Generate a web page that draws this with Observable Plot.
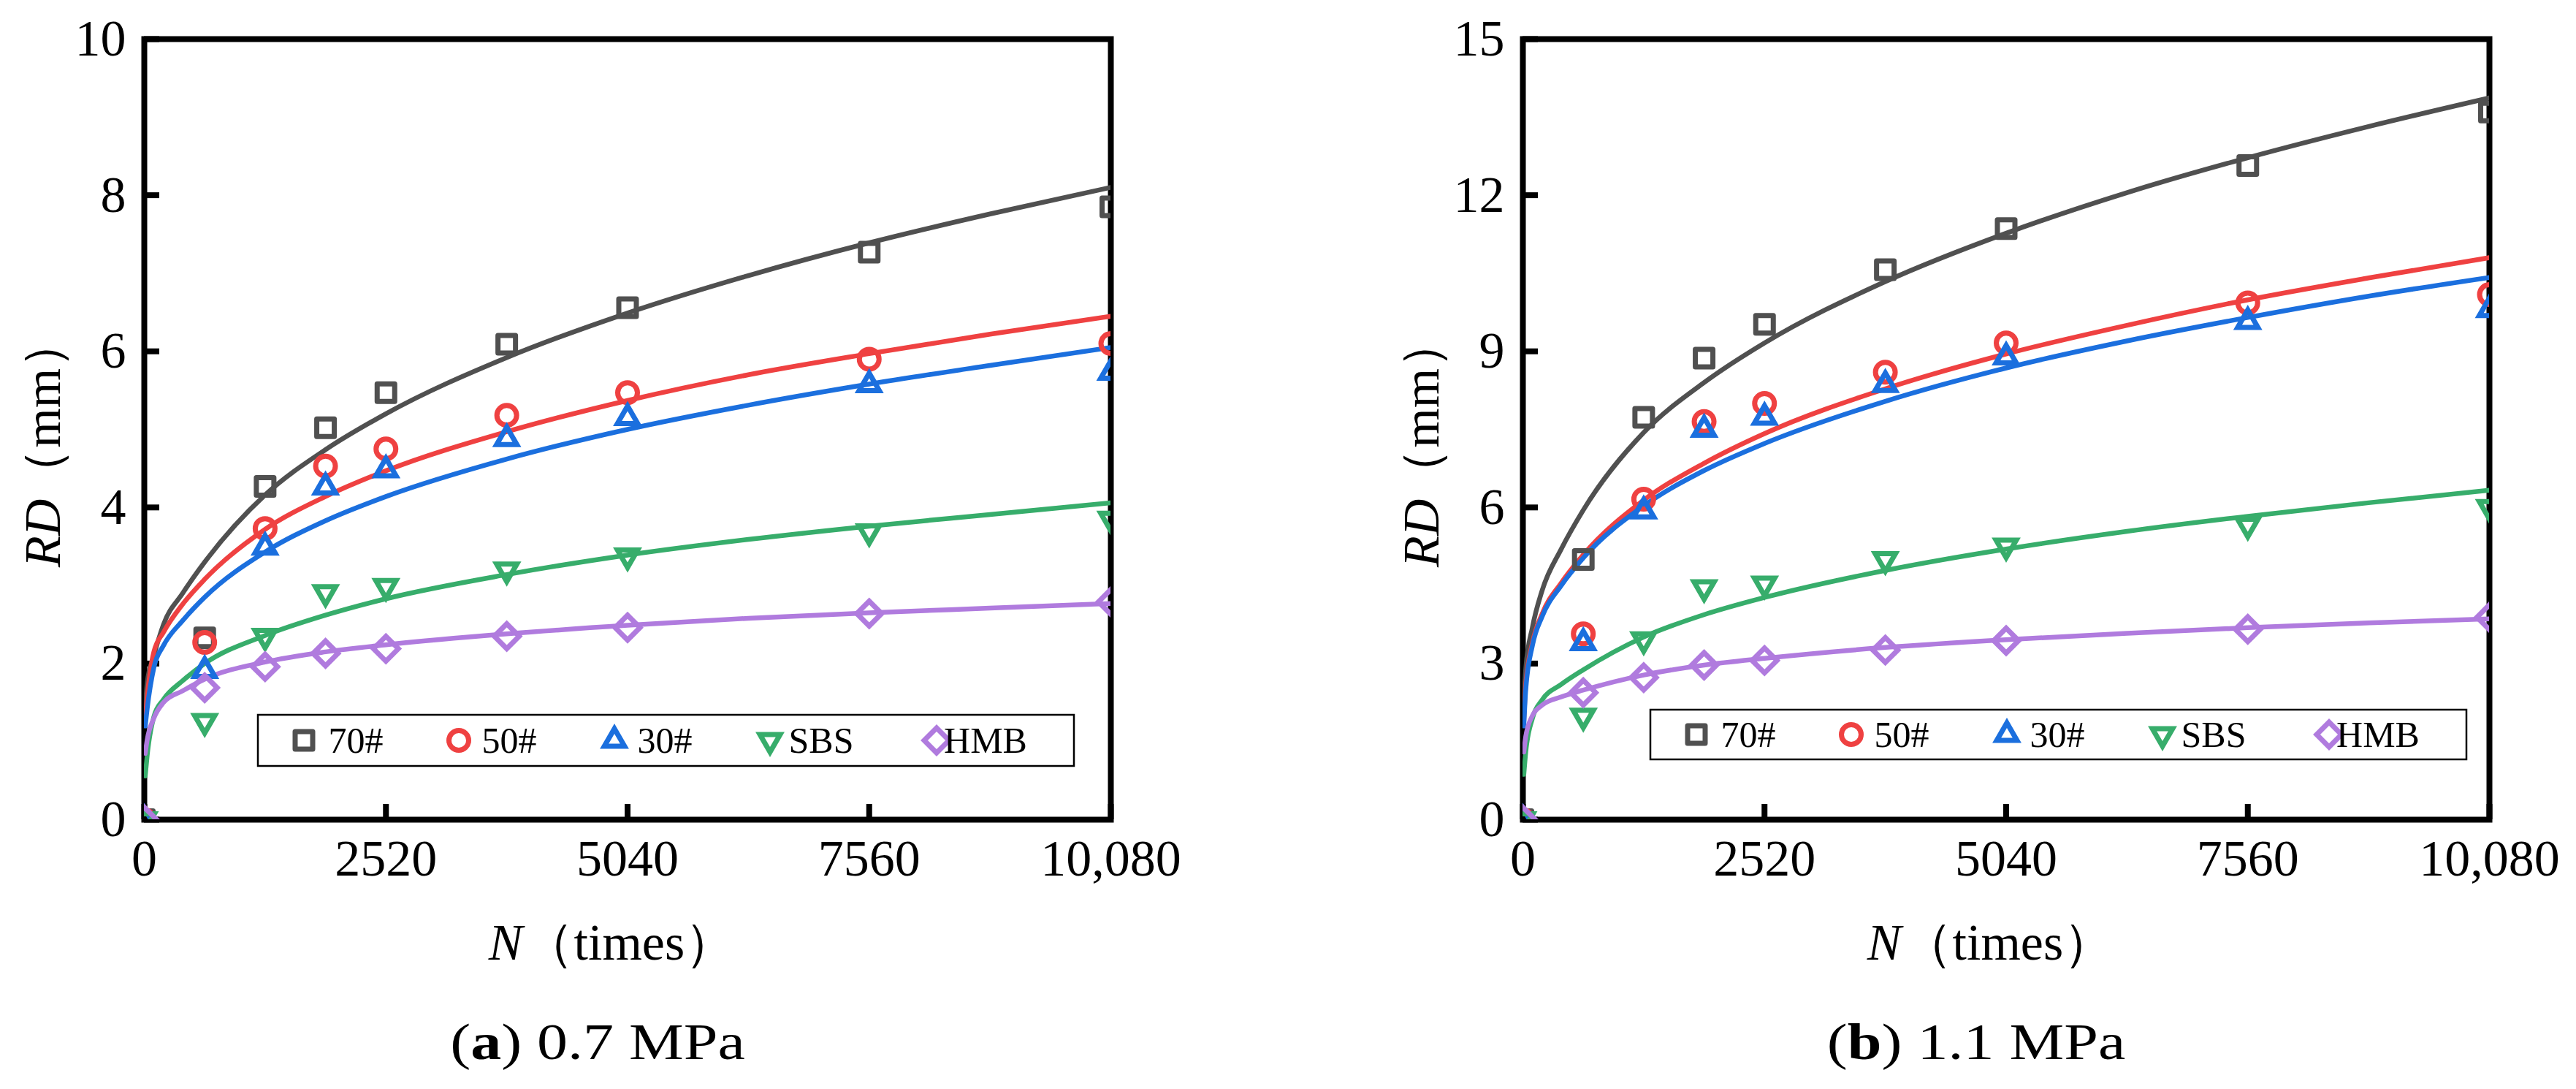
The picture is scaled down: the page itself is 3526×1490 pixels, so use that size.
<!DOCTYPE html>
<html>
<head>
<meta charset="utf-8">
<script src="https://cdn.jsdelivr.net/npm/d3@7"></script>
<script src="https://cdn.jsdelivr.net/npm/@observablehq/plot@0.6"></script>
<style>
  body { margin: 0; background: #fff; }
  #wrap { position: relative; width: 3526px; height: 1490px; overflow: hidden; background: #fff; }
  .panel { position: absolute; top: 0; width: 1763px; height: 1490px; }
  .caption {
    position: absolute; top: 1391px;
    font-family: "Liberation Serif", serif;
    font-size: 70px; line-height: 70px; white-space: nowrap;
    transform: translateX(-50%) scaleX(1.2); color: #000;
  }
</style>
</head>
<body>
<div id="wrap">
  <div class="panel" id="pa" style="left:0px"></div>
  <div class="panel" id="pb" style="left:1763px"></div>
</div>
<script>
const FONT = "'Liberation Serif', serif";

// series + colours
const seriesNames = ["70#", "50#", "30#", "SBS", "HMB"];
const colors = ["#505050", "#ef4141", "#1b6fde", "#37ad6b", "#b07bde"];

// loading cycles of the test points and of the fitted curves
const N_test = [0, 630, 1260, 1890, 2520, 3780, 5040, 7560, 10080];
const N_fit = [10, 30, 100, 200, 400, 630, 1260, 1890, 2520, 3780, 5040, 6300, 7560, 8820, 10080];
const xTicks = [0, 2520, 5040, 7560, 10080];

// (a) 0.7 MPa, measured rut depth (mm)
const rd07_70 = [0, 2.33, 4.27, 5.02, 5.47, 6.09, 6.56, 7.27, 7.85];
const rd07_50 = [0, 2.27, 3.73, 4.53, 4.75, 5.18, 5.47, 5.90, 6.10];
const rd07_30 = [0, 1.91, 3.49, 4.26, 4.48, 4.88, 5.15, 5.57, 5.73];
const rd07_SBS = [0, 1.26, 2.35, 2.91, 2.99, 3.20, 3.38, 3.69, 3.85];
const rd07_HMB = [0, 1.69, 1.96, 2.13, 2.19, 2.35, 2.46, 2.64, 2.79];
// (a) fitted curves
const fit07_70 = [1.4, 1.75, 2.1, 2.5, 2.9, 3.3, 4.16, 4.74, 5.2, 5.92, 6.49, 6.97, 7.39, 7.76, 8.1];
const fit07_50 = [1.3, 1.57, 2.15, 2.4, 2.76, 3.08, 3.72, 4.14, 4.47, 4.97, 5.37, 5.70, 5.97, 6.22, 6.45];
const fit07_30 = [1.2, 1.42, 1.95, 2.23, 2.55, 2.85, 3.43, 3.83, 4.14, 4.62, 5.0, 5.31, 5.58, 5.82, 6.05];
const fit07_SBS = [0.56, 0.82, 1.32, 1.54, 1.78, 2.0, 2.36, 2.62, 2.83, 3.14, 3.39, 3.59, 3.76, 3.91, 4.06];
const fit07_HMB = [0.85, 1.02, 1.3, 1.5, 1.65, 1.8, 2.02, 2.15, 2.24, 2.38, 2.49, 2.58, 2.65, 2.71, 2.77];

// (b) 1.1 MPa, measured rut depth (mm)
const rd11_70 = [0, 5.0, 7.73, 8.87, 9.52, 10.57, 11.36, 12.57, 13.6];
const rd11_50 = [0, 3.57, 6.16, 7.65, 8.0, 8.6, 9.16, 9.93, 10.09];
const rd11_30 = [0, 3.4, 5.93, 7.5, 7.73, 8.36, 8.89, 9.57, 9.8];
const rd11_SBS = [0, 1.99, 3.46, 4.46, 4.53, 5.0, 5.26, 5.66, 6.0];
const rd11_HMB = [0, 2.44, 2.73, 2.97, 3.06, 3.26, 3.44, 3.66, 3.89];
// (b) fitted curves
const fit11_70 = [2.3, 2.9, 3.7, 4.4, 5.2, 5.95, 7.44, 8.4, 9.16, 10.34, 11.27, 12.05, 12.72, 13.32, 13.87];
const fit11_50 = [1.9, 2.6, 3.4, 3.95, 4.55, 5.09, 6.14, 6.85, 7.42, 8.28, 8.95, 9.5, 9.99, 10.41, 10.8];
const fit11_30 = [1.8, 2.5, 3.35, 3.9, 4.5, 5.03, 6.03, 6.71, 7.23, 8.04, 8.68, 9.2, 9.65, 10.06, 10.42];
const fit11_SBS = [0.87, 1.3, 1.95, 2.3, 2.6, 2.88, 3.51, 3.94, 4.27, 4.79, 5.2, 5.54, 5.83, 6.09, 6.33];
const fit11_HMB = [1.3, 1.6, 2.0, 2.2, 2.36, 2.49, 2.78, 2.97, 3.1, 3.31, 3.46, 3.58, 3.69, 3.78, 3.86];

// hollow marker shapes (size = PI*r*r, r used as a scale factor)
const k = s => Math.sqrt(s / Math.PI);
const symSquare = {draw(c, s) { const h = 12 * k(s); c.moveTo(-h, -h); c.lineTo(h, -h); c.lineTo(h, h); c.lineTo(-h, h); c.closePath(); }};
const symCircle = {draw(c, s) { const r = 13.5 * k(s); c.moveTo(r, 0); c.arc(0, 0, r, 0, 2 * Math.PI); }};
const symUp = {draw(c, s) { const R = 16 * k(s), u = R * Math.sqrt(3) / 2; c.moveTo(0, -R); c.lineTo(u, R / 2); c.lineTo(-u, R / 2); c.closePath(); }};
const symDown = {draw(c, s) { const R = 16 * k(s), u = R * Math.sqrt(3) / 2; c.moveTo(0, R); c.lineTo(u, -R / 2); c.lineTo(-u, -R / 2); c.closePath(); }};
const symDiamond = {draw(c, s) { const h = 17 * k(s); c.moveTo(0, -h); c.lineTo(h, 0); c.lineTo(0, h); c.lineTo(-h, 0); c.closePath(); }};
const symbols = [symSquare, symCircle, symUp, symDown, symDiamond];

// legend item offsets inside the box
const legendMarkX = [63, 275, 488, 701, 929];
const legendTextX = [134, 344, 557, 771, 996];

const panels = [
  {id: "pa", yMax: 10, yTicks: [0, 2, 4, 6, 8, 10], marginLeft: 197, marginRight: 243,
   test: [rd07_70, rd07_50, rd07_30, rd07_SBS, rd07_HMB],
   fit: [fit07_70, fit07_50, fit07_30, fit07_SBS, fit07_HMB],
   legend: {x: 353, y: 978, h: 70}, letter: "a", load: "0.7 MPa"},
  {id: "pb", yMax: 15, yTicks: [0, 3, 6, 9, 12, 15], marginLeft: 321, marginRight: 119,
   test: [rd11_70, rd11_50, rd11_30, rd11_SBS, rd11_HMB],
   fit: [fit11_70, fit11_50, fit11_30, fit11_SBS, fit11_HMB],
   legend: {x: 2259 - 1763, y: 971, h: 68}, letter: "b", load: "1.1 MPa"}
];

const W = 1763, H = 1340, mTop = 53, mBottom = 219;
const plotW = 1323, plotH = H - mTop - mBottom;

panels.forEach(p => {
  const points = [], curves = [];
  seriesNames.forEach((s, i) => {
    N_test.forEach((n, j) => points.push({series: s, N: n, RD: p.test[i][j]}));
    N_fit.forEach((n, j) => curves.push({series: s, N: n, RD: p.fit[i][j]}));
  });

  const marks = [
    Plot.frame({stroke: "black", strokeWidth: 8}),
    Plot.tickY(p.yTicks, {y: d => d, stroke: "black", strokeWidth: 8, insetRight: plotW - 21}),
    Plot.tickX(xTicks, {x: d => d, stroke: "black", strokeWidth: 8, insetTop: plotH - 21}),
    Plot.axisY({ticks: p.yTicks, tickSize: 0, tickPadding: 25, label: null, fontSize: 70, tickFormat: d => String(d)}),
    Plot.axisX({ticks: xTicks, tickSize: 0, tickPadding: 27, label: null, fontSize: 70,
      tickFormat: d => d === 10080 ? "10,080" : String(d)})
  ];
  seriesNames.forEach((s, i) => {
    marks.push(Plot.line(curves.filter(d => d.series === s), {
      x: "N", y: "RD", stroke: colors[i], strokeWidth: 6.5, curve: "monotone-x", clip: true
    }));
  });
  seriesNames.forEach((s, i) => {
    marks.push(Plot.dot(points.filter(d => d.series === s), {
      x: "N", y: "RD", r: 1, symbol: symbols[i], fill: "none", stroke: colors[i],
      strokeWidth: 7, strokeLinejoin: i === 0 ? "round" : "miter", clip: true
    }));
  });

  const chart = Plot.plot({
    width: W, height: H,
    marginLeft: p.marginLeft, marginRight: p.marginRight, marginTop: mTop, marginBottom: mBottom,
    x: {domain: [0, 10080]},
    y: {domain: [0, p.yMax]},
    style: {fontSize: "70px", color: "black", background: "white", overflow: "visible"},
    marks
  });

  const svg = d3.select(chart);
  const ml = p.marginLeft;

  // axis titles
  const yt = svg.append("text")
    .attr("transform", `translate(${ml - 115},605) rotate(-90)`)
    .attr("text-anchor", "middle").attr("font-size", 70).attr("fill", "black");
  yt.append("tspan").attr("font-style", "italic").text("RD");
  yt.append("tspan").text("（mm）");

  const xt = svg.append("text")
    .attr("x", ml + 641).attr("y", 1313)
    .attr("text-anchor", "middle").attr("font-size", 70).attr("fill", "black");
  xt.append("tspan").attr("font-style", "italic").text("N");
  xt.append("tspan").text("（times）");

  // legend box
  const lg = svg.append("g").attr("transform", `translate(${p.legend.x},${p.legend.y})`);
  lg.append("rect").attr("width", 1117).attr("height", p.legend.h)
    .attr("fill", "white").attr("stroke", "black").attr("stroke-width", 2.5);
  seriesNames.forEach((s, i) => {
    lg.append("path")
      .attr("transform", `translate(${legendMarkX[i]},${p.legend.h / 2})`)
      .attr("d", d3.symbol(symbols[i], Math.PI)())
      .attr("fill", "none").attr("stroke", colors[i]).attr("stroke-width", 7)
      .attr("stroke-linejoin", i === 0 ? "round" : "miter");
    lg.append("text").attr("x", legendTextX[i]).attr("y", p.legend.h / 2 + 17)
      .attr("font-size", 50).attr("fill", "black").text(s);
  });

  // serif everywhere in the svg
  svg.attr("font-family", FONT).style("font-family", FONT);
  svg.selectAll("text, tspan").style("font-family", FONT);

  const host = document.getElementById(p.id);
  host.appendChild(chart);

  const cap = document.createElement("div");
  cap.className = "caption";
  cap.style.left = (ml + 621) + "px";
  cap.innerHTML = `(<b>${p.letter}</b>) ${p.load}`;
  host.appendChild(cap);
});
</script>
</body>
</html>
